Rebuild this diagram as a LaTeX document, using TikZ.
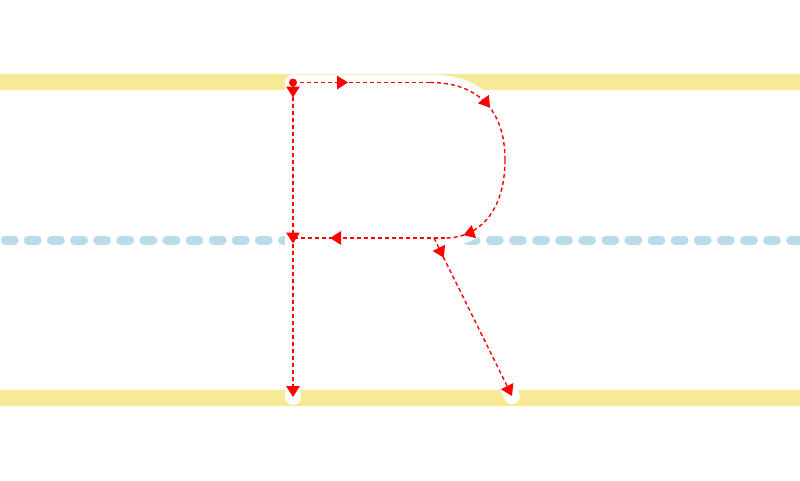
\documentclass[tikz,border=0pt]{standalone}
\usetikzlibrary{arrows.meta,decorations.markings}
\definecolor{bandyellow}{RGB}{246,234,153}
\definecolor{guideblue}{RGB}{184,220,234}
\tikzset{
  band/.style={bandyellow, line width=16pt},
  midline/.style={guideblue, line width=9pt, line cap=round, dash pattern=on 9pt off 14.1pt},
  letter/.style={white, line width=16pt, line cap=round, line join=round},
  guide/.style={red, line width=1.4pt, dash pattern=on 4pt off 3pt},
  >={Triangle[length=11pt,width=13.5pt]},
  tipat/.style={postaction={decorate}, decoration={markings, mark=at position #1 with {\arrow{>}}}},
}
\begin{document}
\begin{tikzpicture}[x=1pt,y=-1pt]
\useasboundingbox (0,0) rectangle (800,480);
% guide bands
\coordinate (bandTL) at (0,82);
\coordinate (bandTR) at (800,82);
\coordinate (bandBL) at (0,398);
\coordinate (bandBR) at (800,398);
\coordinate (midL) at (5.2,240);
\coordinate (midR) at (800,240);
\draw[band] (bandTL) -- (bandTR);
\draw[band] (bandBL) -- (bandBR);
\draw[midline] (midL) -- (midR);
% letter points
\coordinate (S) at (293,82.5);
\coordinate (M) at (293,238);
\coordinate (B) at (293,397);
\coordinate (T) at (430,82.5);
\coordinate (R) at (505,160);
\coordinate (J) at (445,238);
\coordinate (L0) at (434,238);
\coordinate (L1) at (512,396);
% white letter
\draw[letter] (S) -- (B);
\draw[letter] (S) -- (T) .. controls (478,82.5) and (505,110) .. (R)
  .. controls (505,210) and (480,238) .. (J) -- (M);
\draw[letter] (L0) -- (L1);
% red guides
\fill[red] (S) circle (4pt);
\draw[guide, -{Triangle[length=11pt,width=13.5pt]},
  postaction={decorate}, decoration={markings,
    mark=at position 15pt with {\arrow{>}},
    mark=at position 161pt with {\arrow{>}}}] (S) -- (B);
\draw[guide, tipat=55pt] (S) -- (T);
\draw[guide, tipat=0.55] (T) .. controls (478,82.5) and (505,110) .. (R);
\draw[guide, tipat=0.83] (R) .. controls (505,210) and (480,238) .. (J);
\draw[guide, tipat=115pt] (J) -- (M);
\draw[guide, tipat=22pt, -{Triangle[length=11pt,width=13.5pt]}] (L0) -- (L1);
\end{tikzpicture}
\end{document}
